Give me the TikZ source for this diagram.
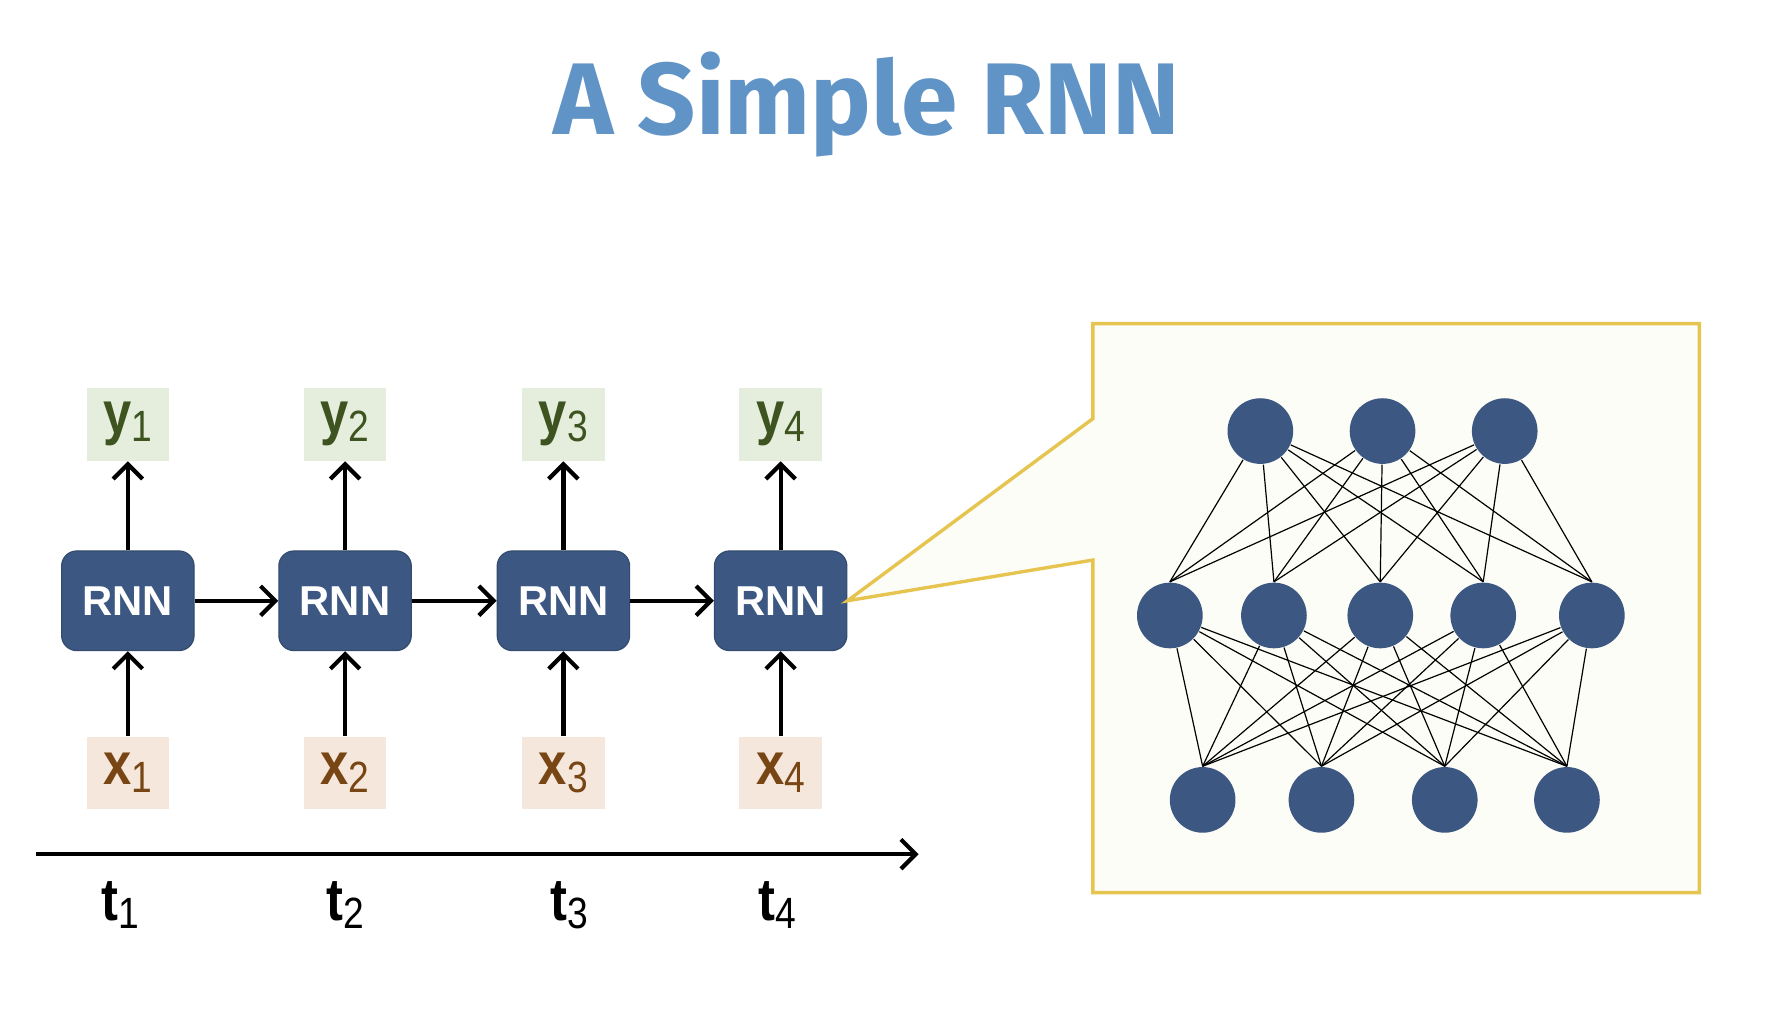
\documentclass[tikz,border=0pt]{standalone}
\usepackage{fontspec}
\setmainfont{Liberation Sans}
\newfontfamily\titlefont{Fira Sans}
\usepackage{tikz}
\usetikzlibrary{arrows.meta}

\definecolor{rnnblue}{RGB}{60,88,130}
\definecolor{titleblue}{RGB}{96,148,198}
\definecolor{yfill}{RGB}{229,238,221}
\definecolor{ytext}{RGB}{62,84,32}
\definecolor{xfill}{RGB}{246,231,220}
\definecolor{xtext}{RGB}{120,70,20}
\definecolor{callout}{RGB}{230,196,80}
\definecolor{cream}{RGB}{253,253,247}

\newcommand\sublabel[2]{\scalebox{0.85}[1]{\textbf{#1}\raisebox{-0.25ex}{\fontsize{11}{11}\selectfont\mdseries #2}}}

\begin{document}
\begin{tikzpicture}[x=0.01cm, y=-0.01cm,
        every node/.style = {font=\fontsize{15}{15}\selectfont},
        rnn/.style = {shape=rectangle, rounded corners=3.8pt, fill=rnnblue,
          draw=rnnblue!85!black, line width=0.3pt, text=white,
          minimum width=1.17cm, minimum height=0.88cm,
          font=\fontsize{10.5}{10.5}\selectfont\bfseries},
        ybox/.style = {shape=rectangle, fill=yfill, text=ytext,
          minimum width=0.73cm, minimum height=0.64cm},
        xbox/.style = {shape=rectangle, fill=xfill, text=xtext,
          minimum width=0.73cm, minimum height=0.64cm},
        neuron/.style = {shape=circle, fill=rnnblue, minimum size=0.58cm, inner sep=0pt},
        flow/.style = {line width=1.05pt, -{Straight Barb[length=1.3mm, width=2.6mm, line width=1.05pt]}},
        edge/.style = {line width=0.3pt, black}]
  \useasboundingbox[fill=white] (0,0) rectangle (1568,908);

  % title
  \node[text=titleblue, font=\titlefont\fontsize{25.6}{25.6}\selectfont\bfseries] (title) at (766,92) {A Simple RNN};

  % unrolled network
  \foreach \x [count=\i] in {113,305,498,690} {
    \node[rnn] (r\i) at (\x,531) {RNN};
    \node[ybox] (y\i) at (\x,375) {\sublabel{y}{\i}};
    \node[xbox] (x\i) at (\x,683) {\sublabel{x}{\i}};
    \draw[flow] (r\i) -- (y\i);
    \draw[flow] (x\i) -- (r\i);
  }
  \foreach \i/\j in {1/2,2/3,3/4}
    \draw[flow] (r\i) -- (r\j);

  % time axis
  \coordinate (tstart) at (32,755);
  \coordinate (tend) at (812,755);
  \draw[flow] (tstart) -- (tend);
  \foreach \x [count=\i] in {106,305,503,687}
    \node (t\i) at (\x,800) {\sublabel{t}{\i}};

  % zoomed cell
  \draw[callout, line width=0.85pt, fill=cream] (966,286) -- (1502,286) -- (1502,789)
    -- (966,789) -- (966,495) -- (r4.east) -- (966,370) -- cycle;

  \foreach \x [count=\i] in {1114,1222,1330}
    \node[neuron] (n1\i) at (\x,381) {};
  \foreach \x [count=\i] in {1034,1126,1220,1311,1407}
    \node[neuron] (n2\i) at (\x,544) {};
  \foreach \x [count=\i] in {1063,1168,1277,1385}
    \node[neuron] (n3\i) at (\x,707) {};

  \foreach \i in {1,...,3}
    \foreach \j in {1,...,5}
      \draw[edge] (n1\i) -- (n2\j.north);
  \foreach \i in {1,...,5}
    \foreach \j in {1,...,4}
      \draw[edge] (n2\i) -- (n3\j.north);
\end{tikzpicture}
\end{document}
